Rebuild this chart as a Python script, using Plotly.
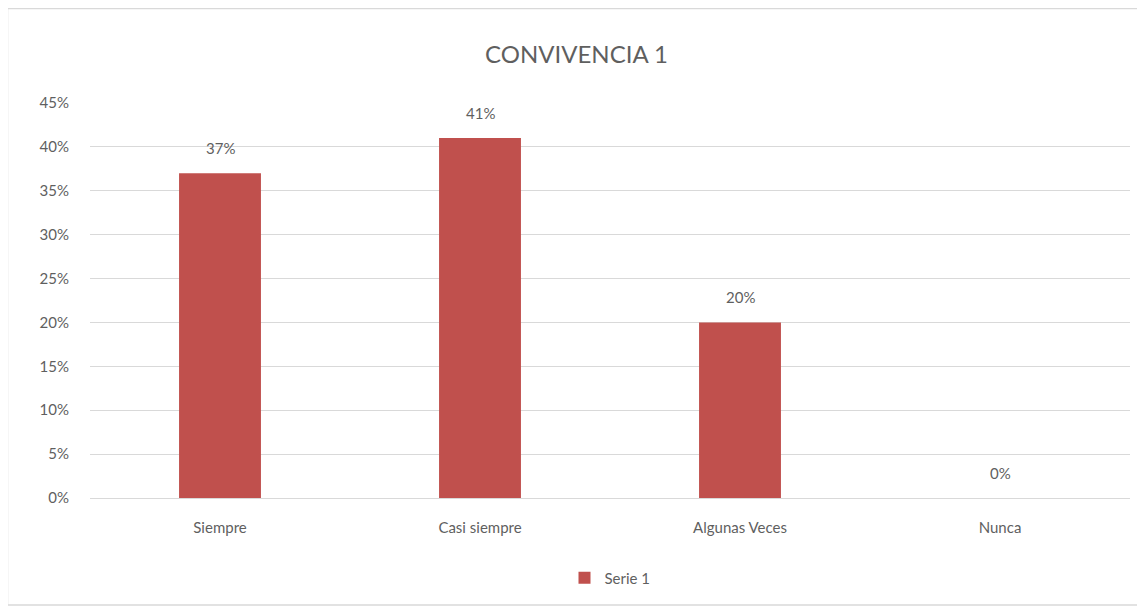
import plotly.graph_objects as go

categories = ["Siempre", "Casi siempre", "Algunas Veces", "Nunca"]
values = [0.37, 0.41, 0.20, 0.0]
labels = ["37%", "41%", "20%", "0%"]
series_name = "Serie 1"
y_ticks = [0, 0.05, 0.10, 0.15, 0.20, 0.25, 0.30, 0.35, 0.40, 0.45]
y_ticklabels = ["0%", "5%", "10%", "15%", "20%", "25%", "30%", "35%", "40%", "45%"]

OFF = 8  # browser body margin
W, H = 1145 - OFF, 608 - OFF
L, R, T, B = 90 - OFF, 15, 103 - OFF, 110
pw = W - L - R
ph = H - T - B

font_family = "Lato, 'Open Sans', sans-serif"
grey = "#5F5F5F"

fig = go.Figure()
fig.add_trace(go.Bar(
    x=categories, y=values, name=series_name,
    marker=dict(color="#C0504D", line=dict(width=0)),
    width=0.315,
    showlegend=True,
))

for c, v, t in zip(categories, values, labels):
    fig.add_annotation(x=c, y=v, text=t, showarrow=False, yanchor="middle", yshift=25,
                       font=dict(size=15, color=grey, family=font_family))


def px_x(x):
    return (x - OFF - L) / pw


def px_y(y):
    return (H - B - (y - OFF)) / ph


fig.update_layout(
    width=W, height=H,
    margin=dict(l=L, r=R, t=T, b=B),
    paper_bgcolor="white", plot_bgcolor="white",
    title=dict(text="CONVIVENCIA 1", x=0.5, xanchor="center", y=1 - (55 - OFF) / H, yanchor="middle",
               font=dict(size=24, color=grey, family=font_family)),
    font=dict(family=font_family, color=grey),
    xaxis=dict(showgrid=False, showline=False, ticks="", tickfont=dict(size=15, color=grey),
               ticklabelstandoff=19),
    yaxis=dict(range=[0, 0.45], tickvals=y_ticks, ticktext=y_ticklabels,
               showgrid=True, gridcolor="#D9D9D9", gridwidth=1, zeroline=True,
               zerolinecolor="#D9D9D9", zerolinewidth=1, showline=False,
               tickfont=dict(size=15, color=grey), ticks="", ticklabelstandoff=20),
    legend=dict(orientation="h", x=0.5, xanchor="center", y=px_y(578), yanchor="middle",
                font=dict(size=15, color=grey, family=font_family)),
    shapes=[dict(type="rect", xref="paper", yref="paper",
                 x0=px_x(7.5), x1=px_x(1160), y0=px_y(605), y1=px_y(8.5),
                 line=dict(color="#D9D9D9", width=1.5), fillcolor="rgba(0,0,0,0)", layer="below")],
)

fig.write_html("out.html")
